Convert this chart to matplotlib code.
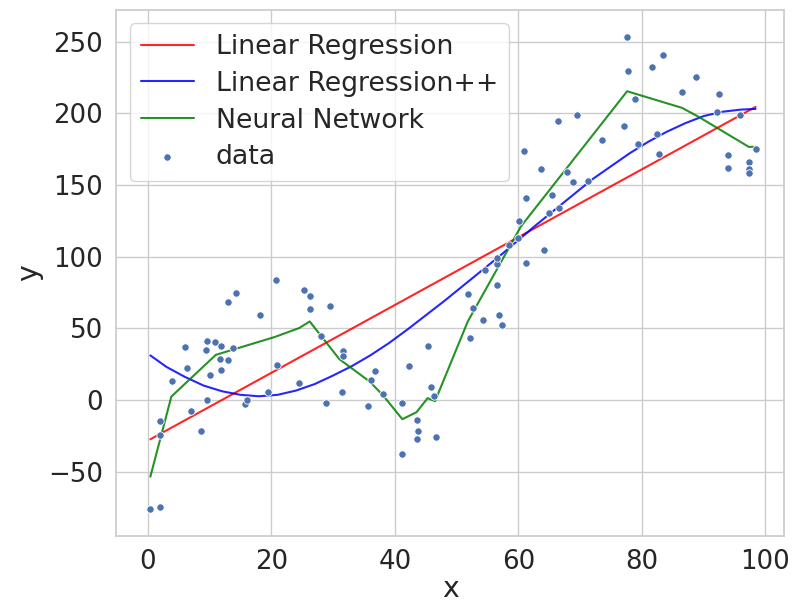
import matplotlib
matplotlib.use("Agg")
import matplotlib.pyplot as plt
import seaborn as sns

# scatter data
data_x = [0.4, 1.9, 1.9, 1.9, 3.9, 6.0, 6.4, 7.0, 8.6, 9.5, 9.4, 9.5, 10.1, 10.9,
          11.9, 11.7, 11.9, 12.9, 14.2, 13.7, 13.0, 15.8, 16.0, 18.2, 19.4, 20.7,
          20.9, 24.4, 25.2, 26.3, 26.3, 29.5, 28.1, 28.9, 31.6, 31.6, 31.4, 36.7,
          36.1, 38.0, 35.7, 41.2, 42.2, 45.3, 45.9, 46.4, 41.2, 43.5, 43.8, 43.5,
          46.7, 51.9, 52.6, 52.2, 54.3, 54.6, 56.6, 56.6, 56.8, 57.4, 56.5, 61.2,
          60.9, 63.6, 73.6, 79.4, 67.9, 68.9, 71.2, 61.3, 65.4, 65.0, 66.6, 60.1,
          59.9, 58.4, 64.2, 77.5, 77.7, 81.6, 83.4, 78.9, 86.5, 88.8, 92.5, 92.1,
          95.8, 77.1, 82.4, 82.8, 93.9, 93.9, 98.4, 97.4, 97.3, 97.3, 66.4, 69.5]
data_y = [-76.3, -74.5, -14.7, -24.4, 13.3, 36.8, 21.9, -7.9, -21.4, 41.2, 35.1, -0.2,
          17.5, 40.3, 37.7, 28.4, 20.9, 68.2, 74.9, 36.1, 27.7, -2.8, 0.0, 58.9, 5.6,
          83.3, 24.2, 11.7, 76.6, 72.4, 63.1, 65.6, 44.7, -2.1, 34.4, 30.7, 5.6, 20.0,
          14.0, 4.0, -4.4, -2.3, 23.3, 37.7, 9.1, 3.0, -37.5, -14.0, -21.4, -27.4,
          -25.6, 74.0, 63.8, 43.5, 55.4, 90.8, 95.0, 79.8, 58.9, 52.2, 98.7, 95.5,
          173.7, 160.8, 181.4, 178.8, 159.2, 151.7, 152.7, 140.6, 143.2, 130.6, 133.6,
          124.8, 112.6, 108.0, 104.5, 253.0, 229.3, 232.1, 240.4, 210.0, 215.1, 225.1,
          213.5, 200.9, 199.0, 191.3, 185.5, 171.8, 171.1, 162.0, 175.3, 166.2, 161.1,
          158.3, 194.6, 199.0]

# fitted models
lin_x = [0.4, 98.4]
lin_y = [-27.5, 204.4]

poly_x = [0.4, 3, 6, 9, 12, 15, 18, 21, 24, 27, 30, 33, 36, 39, 42, 45, 48, 51, 54,
          57, 60, 63, 66, 69, 72, 75, 78, 81, 84, 87, 90, 93, 96, 98.4]
poly_y = [31, 23, 16, 10, 6, 3.5, 2.5, 3.5, 6.5, 11, 17, 23.5, 31, 39.5, 49, 59, 69,
          79.5, 90, 100.5, 111.5, 122.5, 133, 143.5, 154, 163, 172, 180, 187, 193,
          198, 201, 202.5, 203]

nn_x = [0.4, 3.8, 11.0, 20.5, 24.5, 26.2, 31.0, 35.9, 38.0, 41.2, 43.5, 45.3, 46.5,
        51.8, 60.4, 77.6, 86.5, 89.2, 97.3, 98.4]
nn_y = [-53.6, 2.3, 31.4, 43.8, 50.1, 54.7, 28.4, 12.8, 3.5, -13.5, -8.6, 1.2, -0.9,
        54.7, 121.0, 215.3, 203.7, 197.4, 176.5, 176.5]

sns.set_theme(style="whitegrid", font_scale=1.7)

fig = plt.figure(figsize=(7.94, 6.02), dpi=100)
ax = fig.add_axes([0.1466, 0.1096, 0.8408, 0.8738])

l1, = ax.plot(lin_x, lin_y, color="red", alpha=0.85, lw=1.5, label="Linear Regression")
l2, = ax.plot(poly_x, poly_y, color="blue", alpha=0.85, lw=1.5, label="Linear Regression++")
l3, = ax.plot(nn_x, nn_y, color="green", alpha=0.85, lw=1.5, label="Neural Network")
sc = ax.scatter(data_x, data_y, s=28, color="#4c72b0", edgecolor="white", linewidth=0.6,
                label="data", zorder=3)

ax.set_xlim(-5.1, 103)
ax.set_ylim(-95, 272)
ax.tick_params(axis="x", pad=3.5)
ax.set_xlabel("x", labelpad=0)
ax.set_ylabel("y")
ax.legend(handles=[l1, l2, l3, sc], loc="upper left", fontsize=19.3, labelspacing=0.4,
          handlelength=2.0)

fig.savefig("out.png")
